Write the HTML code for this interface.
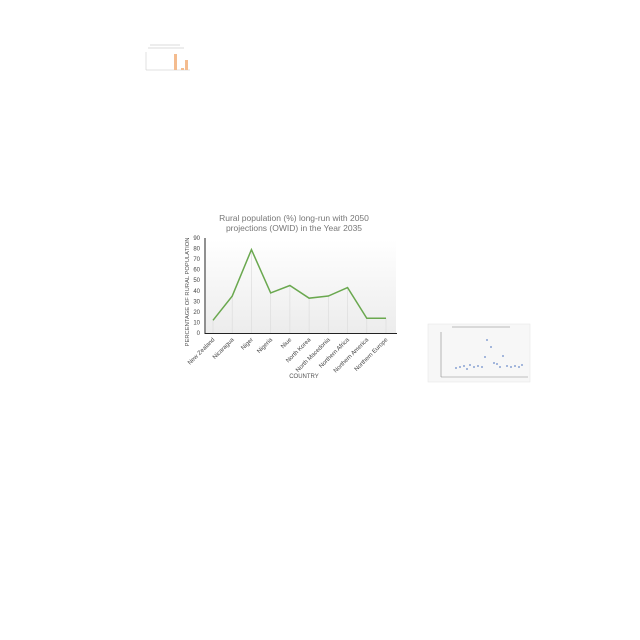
<!DOCTYPE html>
<html><head><meta charset="utf-8"><style>
body{margin:0;width:640px;height:640px;background:#fff;overflow:hidden;font-family:"Liberation Sans",sans-serif}
svg{position:absolute;left:0;top:0}
</style></head><body>
<svg width="640" height="640">
<defs><linearGradient id="bg" x1="0" y1="0" x2="0" y2="1"><stop offset="0" stop-color="#fff"/><stop offset="1" stop-color="#ececec"/></linearGradient></defs>
<g opacity="0.7">
<line x1="146" y1="52" x2="146" y2="70" stroke="#aaa" stroke-width="0.5"/>
<line x1="146" y1="70" x2="190" y2="70" stroke="#aaa" stroke-width="0.5"/>
<rect x="174" y="54" width="3" height="16" fill="#f0a060"/>
<rect x="185" y="60" width="3" height="10" fill="#f0a060"/>
<rect x="181" y="68" width="3" height="2" fill="#f0a060"/>
<line x1="150" y1="45" x2="180" y2="45" stroke="#ccc" stroke-width="1"/>
<line x1="148" y1="48" x2="184" y2="48" stroke="#ccc" stroke-width="1"/>
</g>
<g>
<rect x="428" y="324" width="102" height="58" fill="#f7f7f7" stroke="#e4e4e4" stroke-width="0.5"/>
<line x1="441" y1="332" x2="441" y2="377" stroke="#888" stroke-width="0.6"/>
<line x1="441" y1="377" x2="528" y2="377" stroke="#888" stroke-width="0.6"/>
<g fill="#6a8ac8">
<circle cx="456" cy="368" r="0.9"/><circle cx="460" cy="367" r="0.9"/><circle cx="464" cy="366" r="0.9"/><circle cx="467" cy="369" r="0.9"/><circle cx="470" cy="365" r="0.9"/><circle cx="474" cy="367" r="0.9"/><circle cx="478" cy="366" r="0.9"/><circle cx="482" cy="367" r="0.9"/><circle cx="485" cy="357" r="0.9"/><circle cx="487" cy="340" r="0.9"/><circle cx="491" cy="347" r="0.9"/><circle cx="494" cy="363" r="0.9"/><circle cx="497" cy="364" r="0.9"/><circle cx="500" cy="367" r="0.9"/><circle cx="503" cy="356" r="0.9"/><circle cx="507" cy="366" r="0.9"/><circle cx="511" cy="367" r="0.9"/><circle cx="515" cy="366" r="0.9"/><circle cx="519" cy="367" r="0.9"/><circle cx="522" cy="365" r="0.9"/>
</g>
<line x1="452" y1="327" x2="510" y2="327" stroke="#bbb" stroke-width="1"/>
</g>
<g id="main">
<rect x="206" y="240" width="190" height="93" fill="url(#bg)"/>
<text x="294" y="221" text-anchor="middle" font-size="8.5" fill="#777">Rural population (%) long-run with 2050</text>
<text x="294" y="231" text-anchor="middle" font-size="8.5" fill="#777">projections (OWID) in the Year 2035</text>
<text x="304" y="378" text-anchor="middle" font-size="6" fill="#555">COUNTRY</text>
<text transform="translate(189,292) rotate(-90)" text-anchor="middle" font-size="5.8" fill="#555">PERCENTAGE OF RURAL POPULATION</text>
<g id="grid"></g><g id="ticks"></g>
<line x1="205" y1="238" x2="205" y2="334" stroke="#222" stroke-width="1"/>
<line x1="205" y1="333.5" x2="397" y2="333.5" stroke="#222" stroke-width="1"/>
<path id="line" fill="none" stroke="#6aa84f" stroke-width="1.5"/>
</g>
</svg>
<script>
const categories=["New Zealand","Nicaragua","Niger","Nigeria","Niue","North Korea","North Macedonia","Northern Africa","Northern America","Northern Europe"];
const values=[12,35,79,38,45,33,35,43,14,14];
const yTicks=[0,10,20,30,40,50,60,70,80,90];
const NS="http://www.w3.org/2000/svg";
const x=i=>213+i*(386-213)/(categories.length-1);
const y=v=>333-v*(95/90);
const grid=document.getElementById('grid'),ticks=document.getElementById('ticks');
yTicks.forEach(t=>{const e=document.createElementNS(NS,'text');


e.setAttribute('x',200);e.setAttribute('y',y(t)+2);e.setAttribute('text-anchor','end');e.setAttribute('font-size','6');e.setAttribute('fill','#444');e.textContent=t;ticks.appendChild(e);});
let d='';
categories.forEach((c,i)=>{const l=document.createElementNS(NS,'line');


l.setAttribute('x1',x(i));l.setAttribute('x2',x(i));l.setAttribute('y1',y(values[i]));l.setAttribute('y2',333);l.setAttribute('stroke','#ddd');l.setAttribute('stroke-width','0.7');grid.appendChild(l);
const t=document.createElementNS(NS,'text');


t.setAttribute('transform',`translate(${x(i)+2},${340}) rotate(-45)`);t.setAttribute('text-anchor','end');t.setAttribute('font-size','6');t.setAttribute('fill','#444');t.textContent=c;ticks.appendChild(t);
d+=(i?'L':'M')+x(i)+','+y(values[i]);});
document.getElementById('line').setAttribute('d',d);
</script>
</body></html>
